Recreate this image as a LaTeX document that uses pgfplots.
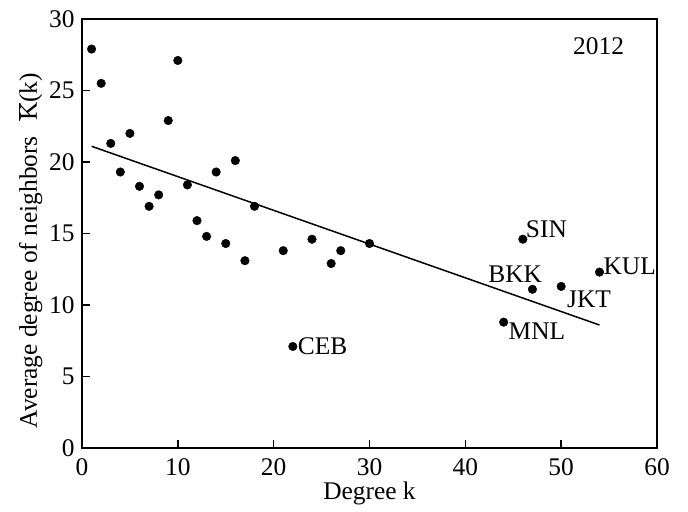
\documentclass[border=0pt]{standalone}
\usepackage{fontspec}
\setmainfont{Liberation Serif}
\usepackage{pgfplots}
\pgfplotsset{compat=1.18}
\usetikzlibrary{calc}

\begin{document}
\begin{tikzpicture}[x=1bp,y=1bp]
  \begin{axis}[
    name=ax,
    scale only axis,
    width=575bp, height=429bp,
    xmin=0, xmax=60, ymin=0, ymax=30,
    xtick={0,10,...,60}, ytick={0,5,...,30},
    tick align=inside,
    xtick pos=bottom, ytick pos=left,
    major tick length=8bp,
    axis line style={line width=1.5pt},
    tick style={line width=1.5pt, black},
    /pgf/number format/assume math mode=true,
    tick label style={font=\fontsize{25.5}{28}\selectfont},
    xticklabel style={yshift=-7bp},
    yticklabel style={xshift=-4bp},
    xlabel={Degree k},
    ylabel={Average degree of neighbors\hspace{0.6em}$\overline{\mbox{K}}$(k)},
    xlabel style={font=\fontsize{25.5}{28}\selectfont, at={(axis description cs:0.5,-0.105)}, anchor=center},
    ylabel style={font=\fontsize{25.5}{28}\selectfont, at={(axis description cs:-0.09,0.46)}, anchor=center},
    clip=false,
  ]
    \addplot[only marks, mark=*, mark size=4.3bp, black] coordinates {
      (1,27.9) (2,25.5) (3,21.3) (4,19.3) (5,22.0) (6,18.3) (7,16.9)
      (8,17.7) (9,22.9) (10,27.1) (11,18.4) (12,15.9) (13,14.8) (14,19.3)
      (15,14.3) (16,20.1) (17,13.1) (18,16.9) (21,13.8) (22,7.1) (24,14.6)
      (26,12.9) (27,13.8) (30,14.3) (44,8.8) (46,14.6) (47,11.1) (50,11.3)
      (54,12.3)
    };
    \addplot[black, line width=1.5pt] coordinates {(1,21.1) (54,8.6)};
    \node[anchor=west, font=\fontsize{25.5}{28}\selectfont, inner sep=1pt] at (axis cs:22.4,7.1) {CEB};
    \node[anchor=south west, font=\fontsize{25.5}{28}\selectfont, inner sep=1pt] at (axis cs:46.2,14.6) {SIN};
    \node[anchor=south, font=\fontsize{25.5}{28}\selectfont, inner sep=1pt] at (axis cs:45.2,11.5) {BKK};
    \node[anchor=north west, font=\fontsize{25.5}{28}\selectfont, inner sep=1pt] at (axis cs:50.5,11.1) {JKT};
    \node[anchor=south west, font=\fontsize{25.5}{28}\selectfont, inner sep=1pt] at (axis cs:54.3,12.0) {KUL};
    \node[anchor=north west, font=\fontsize{25.5}{28}\selectfont, inner sep=1pt] at (axis cs:44.4,8.8) {MNL};
    \node[font=\fontsize{25.5}{28}\selectfont] at (axis cs:53.9,28.1) {2012};
  \end{axis}
  \pgfresetboundingbox
  \path ($(ax.south west)+(-82bp,-63bp)$) rectangle ($(ax.north east)+(31bp,19bp)$);
\end{tikzpicture}
\end{document}
